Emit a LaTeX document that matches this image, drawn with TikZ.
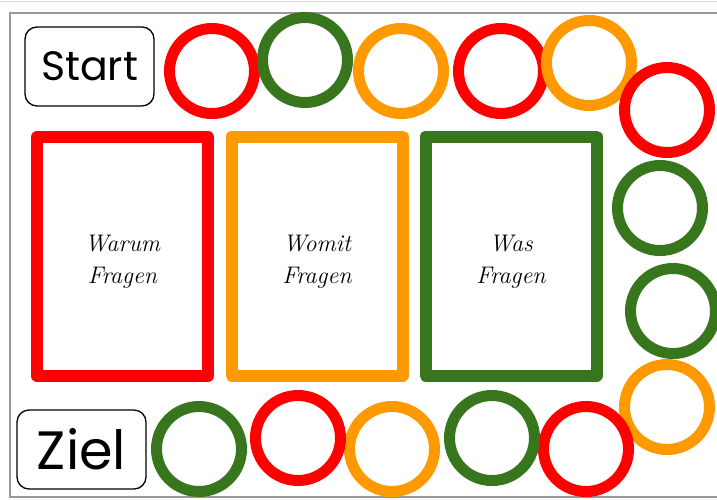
\documentclass[tikz,border=0pt]{standalone}
\usepackage{fontspec}
\setsansfont{Poppins}
\usepackage{tikz}

\definecolor{fieldred}{HTML}{FF0000}
\definecolor{fieldgreen}{HTML}{38761D}
\definecolor{fieldorange}{HTML}{FF9900}

\begin{document}
\begin{tikzpicture}[x=1pt,y=-1pt,
  field/.style={circle,draw=#1,line width=11pt,minimum size=85pt,inner sep=0pt,outer sep=0pt},
  card/.style={rectangle,draw=#1,line width=12pt,line join=round,minimum width=171pt,minimum height=239pt,inner sep=0pt,outer sep=0pt},
  cardtext/.style={align=center,inner sep=0pt,font=\rmfamily\itshape\fontsize{24}{32}\selectfont},
  label/.style={rectangle,rounded corners=12pt,draw=black,line width=1.3pt,inner sep=0pt,outer sep=0pt,font=\sffamily}]
\useasboundingbox (0,0) rectangle (717,499);
\draw[black!15,line width=1pt] (0,1) -- (717,1);
\draw[black!40,line width=2pt] (10,13) -- (722,13) -- (722,497) -- (10,497) -- cycle;
% start and goal
\node[label,minimum width=129pt,minimum height=79pt] (start) at (89.5,66.5) {\fontsize{41}{45}\selectfont Start};
\node[label,minimum width=129pt,minimum height=79pt] (ziel) at (81.5,449.5) {\fontsize{54}{58}\selectfont Ziel};
% question cards
\node[card=fieldred] (warum) at (122.5,256.5) {};
\node[card=fieldorange] (womit) at (317,256) {};
\node[card=fieldgreen] (was) at (511,256) {};
\node[cardtext] (warumtext) at (122.5,262) {Warum\\Fragen};
\node[cardtext] (womittext) at (317,262) {Womit\\Fragen};
\node[cardtext] (wastext) at (511,262) {Was\\Fragen};
% fields
\node[field=fieldred] (f1) at (212,71) {};
\node[field=fieldgreen] (f2) at (305,60) {};
\node[field=fieldorange] (f3) at (401,71) {};
\node[field=fieldred] (f4) at (501,71) {};
\node[field=fieldorange] (f5) at (589,63) {};
\node[field=fieldred] (f6) at (667,110) {};
\node[field=fieldgreen] (f7) at (660,208) {};
\node[field=fieldgreen] (f8) at (673,311) {};
\node[field=fieldorange] (f9) at (667,407) {};
\node[field=fieldred] (f10) at (586,449) {};
\node[field=fieldgreen] (f11) at (492,438) {};
\node[field=fieldorange] (f12) at (392,449) {};
\node[field=fieldred] (f13) at (298,438) {};
\node[field=fieldgreen] (f14) at (199,449) {};
\end{tikzpicture}
\end{document}
